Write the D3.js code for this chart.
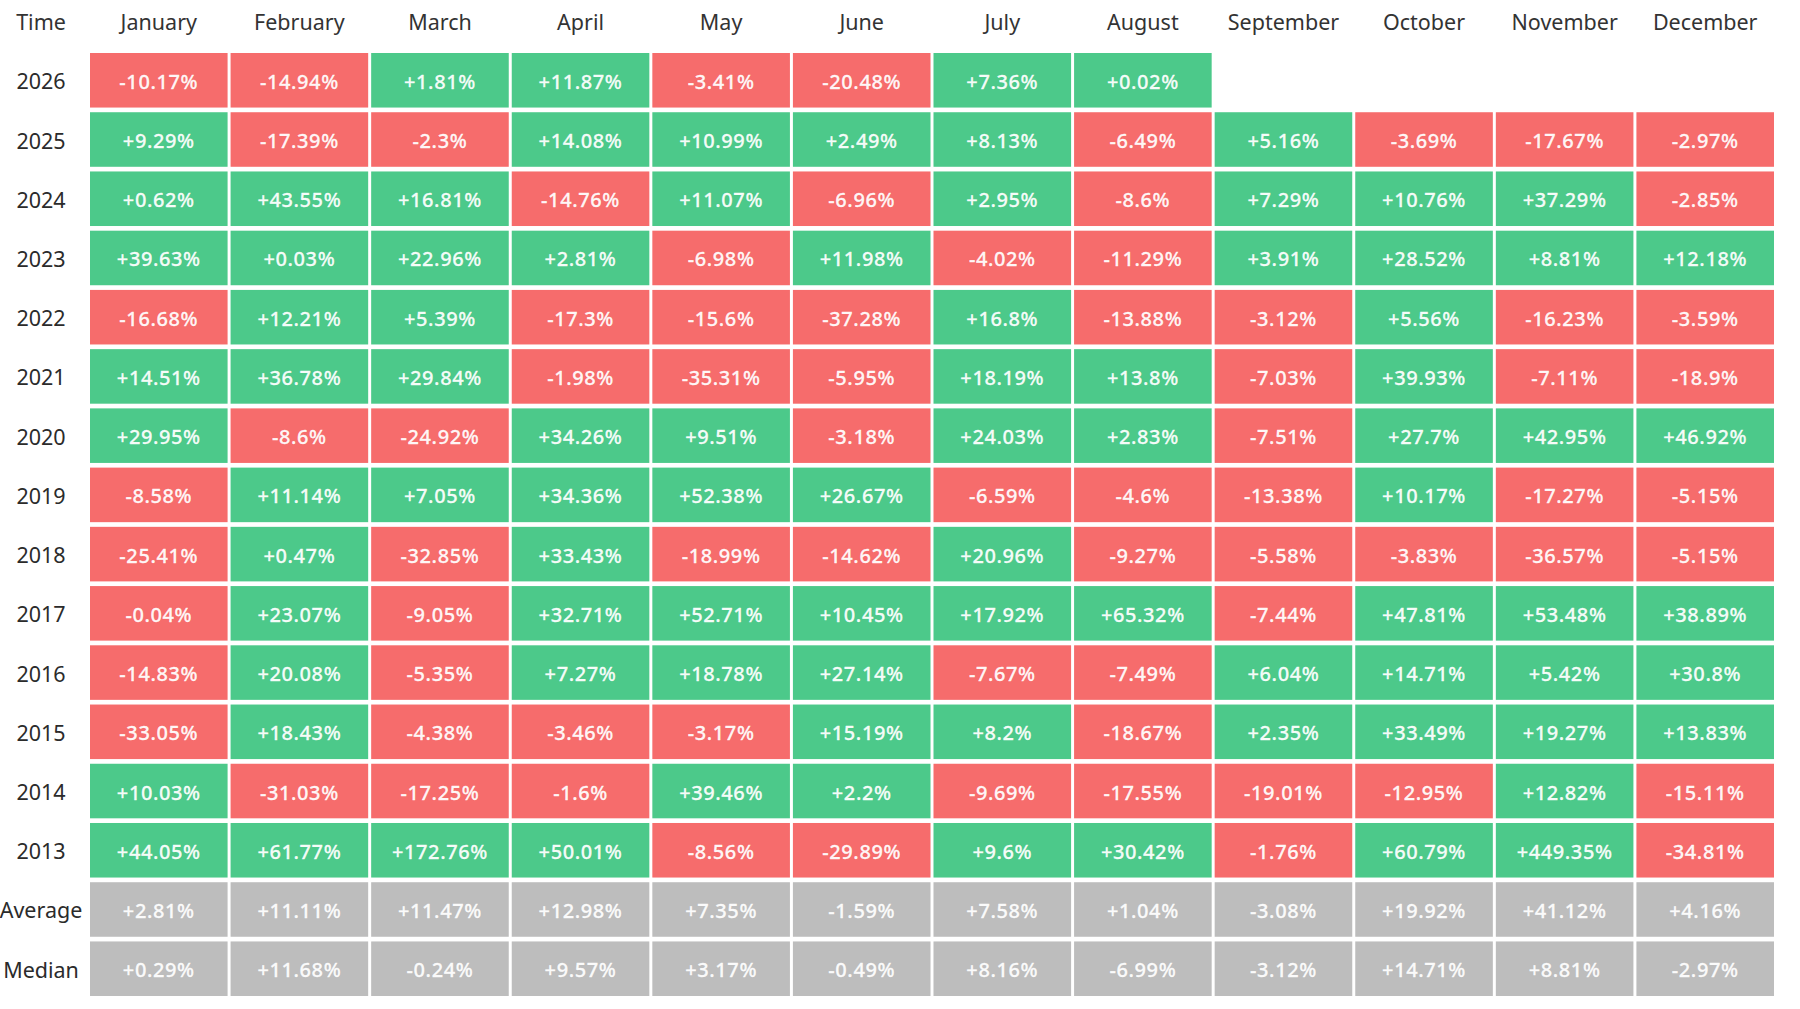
<!DOCTYPE html>
<html>
<head>
<meta charset="utf-8">
<script src="https://cdn.jsdelivr.net/npm/d3@7/dist/d3.min.js"></script>
<style>
  html, body { margin: 0; padding: 0; background: #ffffff; }
  svg { display: block; }
</style>
</head>
<body>
<svg id="chart" width="1800" height="1009"></svg>
<script>
const months = ["January","February","March","April","May","June","July","August","September","October","November","December"];
const rowLabels = ["2026","2025","2024","2023","2022","2021","2020","2019","2018","2017","2016","2015","2014","2013","Average","Median"];
const cornerLabel = "Time";

const y2026 = [-10.17, -14.94, 1.81, 11.87, -3.41, -20.48, 7.36, 0.02];
const y2025 = [9.29, -17.39, -2.3, 14.08, 10.99, 2.49, 8.13, -6.49, 5.16, -3.69, -17.67, -2.97];
const y2024 = [0.62, 43.55, 16.81, -14.76, 11.07, -6.96, 2.95, -8.6, 7.29, 10.76, 37.29, -2.85];
const y2023 = [39.63, 0.03, 22.96, 2.81, -6.98, 11.98, -4.02, -11.29, 3.91, 28.52, 8.81, 12.18];
const y2022 = [-16.68, 12.21, 5.39, -17.3, -15.6, -37.28, 16.8, -13.88, -3.12, 5.56, -16.23, -3.59];
const y2021 = [14.51, 36.78, 29.84, -1.98, -35.31, -5.95, 18.19, 13.8, -7.03, 39.93, -7.11, -18.9];
const y2020 = [29.95, -8.6, -24.92, 34.26, 9.51, -3.18, 24.03, 2.83, -7.51, 27.7, 42.95, 46.92];
const y2019 = [-8.58, 11.14, 7.05, 34.36, 52.38, 26.67, -6.59, -4.6, -13.38, 10.17, -17.27, -5.15];
const y2018 = [-25.41, 0.47, -32.85, 33.43, -18.99, -14.62, 20.96, -9.27, -5.58, -3.83, -36.57, -5.15];
const y2017 = [-0.04, 23.07, -9.05, 32.71, 52.71, 10.45, 17.92, 65.32, -7.44, 47.81, 53.48, 38.89];
const y2016 = [-14.83, 20.08, -5.35, 7.27, 18.78, 27.14, -7.67, -7.49, 6.04, 14.71, 5.42, 30.8];
const y2015 = [-33.05, 18.43, -4.38, -3.46, -3.17, 15.19, 8.2, -18.67, 2.35, 33.49, 19.27, 13.83];
const y2014 = [10.03, -31.03, -17.25, -1.6, 39.46, 2.2, -9.69, -17.55, -19.01, -12.95, 12.82, -15.11];
const y2013 = [44.05, 61.77, 172.76, 50.01, -8.56, -29.89, 9.6, 30.42, -1.76, 60.79, 449.35, -34.81];
const average = [2.81, 11.11, 11.47, 12.98, 7.35, -1.59, 7.58, 1.04, -3.08, 19.92, 41.12, 4.16];
const median = [0.29, 11.68, -0.24, 9.57, 3.17, -0.49, 8.16, -6.99, -3.12, 14.71, 8.81, -2.97];

const series = [y2026, y2025, y2024, y2023, y2022, y2021, y2020, y2019, y2018, y2017, y2016, y2015, y2014, y2013, average, median];
const summaryRows = ["Average", "Median"];

const RED = "#f66c6c", GREEN = "#4cc98a", GRAY = "#bdbdbd";
const FONT = "'Noto Sans', 'DejaVu Sans', sans-serif";

const svg = d3.select("#chart");

const x = d3.scaleBand().domain(months).range([90, 1774]).paddingInner(0.0213).paddingOuter(0);
const y = d3.scaleBand().domain(rowLabels).range([53, 996]).paddingInner(0.079).paddingOuter(0);

const cells = [];
series.forEach((vals, ri) => {
  vals.forEach((v, ci) => {
    cells.push({ row: rowLabels[ri], month: months[ci], value: v, summary: summaryRows.includes(rowLabels[ri]) });
  });
});

const fmt = v => (v >= 0 ? "+" : "-") + String(Math.abs(v)) + "%";
const fill = d => d.summary ? GRAY : (d.value >= 0 ? GREEN : RED);

const g = svg.append("g");
g.selectAll("rect.cell").data(cells).join("rect")
  .attr("class", "cell")
  .attr("x", d => x(d.month))
  .attr("y", d => y(d.row))
  .attr("width", x.bandwidth())
  .attr("height", y.bandwidth())
  .attr("fill", fill);

g.selectAll("text.val").data(cells).join("text")
  .attr("class", "val")
  .attr("x", d => x(d.month) + x.bandwidth() / 2)
  .attr("y", d => y(d.row) + y.bandwidth() / 2 + 8.5)
  .attr("text-anchor", "middle")
  .attr("font-family", FONT)
  .attr("font-size", 20)
  .attr("font-weight", 500)
  .attr("letter-spacing", 0.6)
  .attr("fill", "#ffffff")
  .attr("fill-opacity", 0.96)
  .attr("stroke", "#ffffff")
  .attr("stroke-width", 0.3)
  .attr("stroke-opacity", 0.8)
  .text(d => fmt(d.value));

// Column headers (top axis)
const LABEL_X = 41;
svg.selectAll("text.month").data(months).join("text")
  .attr("class", "month")
  .attr("x", d => x(d) + x.bandwidth() / 2)
  .attr("y", 30)
  .attr("text-anchor", "middle")
  .attr("font-family", FONT)
  .attr("font-size", 21.5)
  .attr("fill", "#333333")
  .text(d => d);

svg.append("text")
  .attr("x", LABEL_X)
  .attr("y", 30)
  .attr("text-anchor", "middle")
  .attr("font-family", FONT)
  .attr("font-size", 21.5)
  .attr("fill", "#333333")
  .text(cornerLabel);

// Row labels
svg.selectAll("text.rowlab").data(rowLabels).join("text")
  .attr("class", "rowlab")
  .attr("x", LABEL_X)
  .attr("y", d => y(d) + y.bandwidth() / 2 + 9)
  .attr("text-anchor", "middle")
  .attr("font-family", FONT)
  .attr("font-size", 21.5)
  .attr("fill", "#2b2b2b")
  .text(d => d);
</script>
</body>
</html>
